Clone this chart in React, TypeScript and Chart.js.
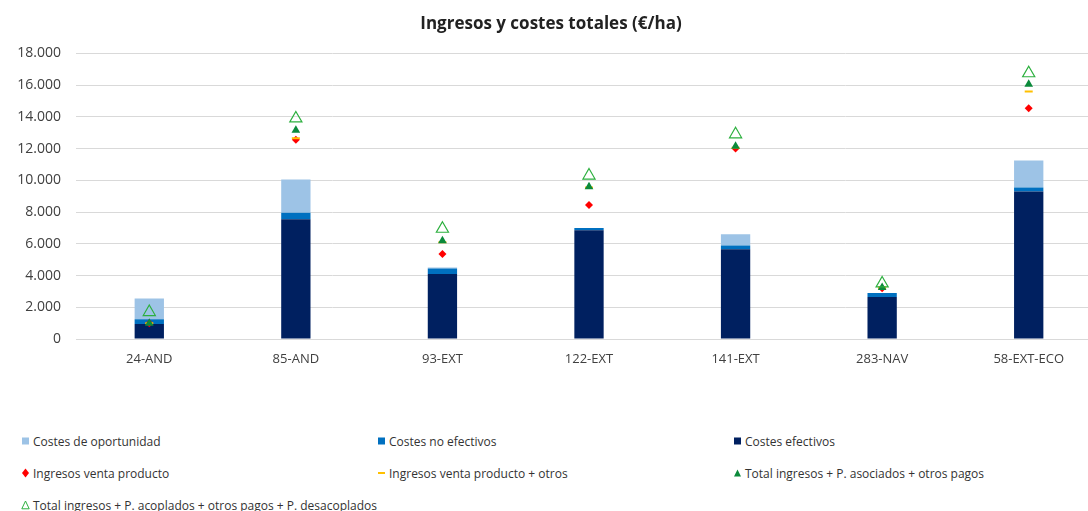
import React, { useEffect, useRef } from "react";
import { Chart, registerables } from "chart.js";

Chart.register(...registerables);

const categories = ["24-AND", "85-AND", "93-EXT", "122-EXT", "141-EXT", "283-NAV", "58-EXT-ECO"];

const costesEfectivos = [950, 7550, 4100, 6850, 5650, 2650, 9300];
const costesNoEfectivos = [300, 400, 350, 150, 250, 250, 250];
const costesOportunidad = [1300, 2100, 50, 0, 700, 0, 1700];

const ingresosVenta = [1000, 12550, 5350, 8450, 12000, 3200, 14550];
const ingresosVentaOtros = [1000, 12650, 6100, 9550, 12050, 3250, 15600];
const totalAsociados = [1000, 13150, 6200, 9600, 12150, 3250, 16050];
const totalAcoplados = [1700, 13900, 6950, 10300, 12900, 3500, 16750];

const yTicks = [0, 2000, 4000, 6000, 8000, 10000, 12000, 14000, 16000, 18000];

const COLORS = {
  oportunidad: "#9DC3E6",
  noEfectivos: "#0070C0",
  efectivos: "#002060",
  venta: "#FF0000",
  ventaOtros: "#FFC000",
  asociados: "#0B8A3B",
  acoplados: "#2DB03F",
};

const legendItems = [
  { label: "Costes de oportunidad", kind: "square", color: COLORS.oportunidad },
  { label: "Costes no efectivos", kind: "square", color: COLORS.noEfectivos },
  { label: "Costes efectivos", kind: "square", color: COLORS.efectivos },
  { label: "Ingresos venta producto", kind: "diamond", color: COLORS.venta },
  { label: "Ingresos venta producto + otros", kind: "dash", color: COLORS.ventaOtros },
  { label: "Total ingresos + P. asociados + otros pagos", kind: "triangle", color: COLORS.asociados },
  { label: "Total ingresos + P. acoplados + otros pagos + P. desacoplados", kind: "openTriangle", color: COLORS.acoplados },
];

function fmt(v: number): string {
  const s = Math.round(v).toString();
  return s.replace(/\B(?=(\d{3})+(?!\d))/g, ".");
}

function Marker({ kind, color }: { kind: string; color: string }) {
  let shape: React.ReactNode = null;
  if (kind === "square") shape = <rect x="1" y="1.5" width="7" height="7" fill={color} />;
  if (kind === "diamond") shape = <polygon points="4.5,0.5 8,5 4.5,9.5 1,5" fill={color} />;
  if (kind === "dash") shape = <rect x="1" y="4" width="7" height="2" fill={color} />;
  if (kind === "triangle") shape = <polygon points="4.5,1.5 8,8.5 1,8.5" fill={color} />;
  if (kind === "openTriangle")
    shape = <polygon points="4.5,1 8.2,8.8 0.8,8.8" fill="none" stroke={color} strokeWidth="1" />;
  return (
    <svg width="9" height="10" style={{ display: "block", marginRight: 3 }}>
      {shape}
    </svg>
  );
}

export default function App() {
  const ref = useRef<HTMLCanvasElement | null>(null);

  useEffect(() => {
    if (!ref.current) return;
    const chart = new Chart(ref.current, {
      type: "bar",
      data: {
        labels: categories,
        datasets: [
          {
            type: "bar",
            label: "Costes efectivos",
            data: costesEfectivos,
            backgroundColor: COLORS.efectivos,
            stack: "s",
            order: 10,
          },
          {
            type: "bar",
            label: "Costes no efectivos",
            data: costesNoEfectivos,
            backgroundColor: COLORS.noEfectivos,
            stack: "s",
            order: 10,
          },
          {
            type: "bar",
            label: "Costes de oportunidad",
            data: costesOportunidad,
            backgroundColor: COLORS.oportunidad,
            stack: "s",
            order: 10,
          },
          {
            type: "line",
            label: "Ingresos venta producto",
            data: ingresosVenta,
            stack: "m1",
            showLine: false,
            pointStyle: "rectRot",
            pointRadius: 4,
            pointBackgroundColor: COLORS.venta,
            pointBorderColor: COLORS.venta,
            pointBorderWidth: 0,
            order: 4,
          },
          {
            type: "line",
            label: "Ingresos venta producto + otros",
            data: ingresosVentaOtros,
            stack: "m2",
            showLine: false,
            pointStyle: "line",
            pointRadius: 4,
            pointBorderColor: COLORS.ventaOtros,
            pointBorderWidth: 2,
            order: 3,
          },
          {
            type: "line",
            label: "Total ingresos + P. asociados + otros pagos",
            data: totalAsociados,
            stack: "m3",
            showLine: false,
            pointStyle: "triangle",
            pointRadius: 5,
            pointBackgroundColor: COLORS.asociados,
            pointBorderColor: COLORS.asociados,
            pointBorderWidth: 0,
            order: 2,
          },
          {
            type: "line",
            label: "Total ingresos + P. acoplados + otros pagos + P. desacoplados",
            data: totalAcoplados,
            stack: "m4",
            showLine: false,
            pointStyle: "triangle",
            pointRadius: 7,
            pointBackgroundColor: "rgba(0,0,0,0)",
            pointBorderColor: COLORS.acoplados,
            pointBorderWidth: 1.2,
            order: 1,
          },
        ] as any,
      },
      options: {
        responsive: false,
        animation: false,
        devicePixelRatio: 1,
        layout: { padding: { left: 0, right: 16, top: 0, bottom: 1 } },
        datasets: {
          bar: { barPercentage: 0.2, categoryPercentage: 1 },
        } as any,
        plugins: {
          legend: { display: false },
          tooltip: { enabled: false },
          title: {
            display: true,
            text: "Ingresos y costes totales (€/ha)",
            color: "#222",
            font: { family: "'Open Sans'", size: 17, weight: "bold" },
            padding: { top: 14, bottom: 19 },
          },
        },
        scales: {
          x: {
            stacked: true,
            grid: { display: false, drawTicks: false },
            border: { display: true, color: "#D9D9D9" },
            ticks: {
              color: "#404040",
              font: { family: "'Open Sans'", size: 13 },
              padding: 12,
            },
            afterFit: (scale: any) => {
              scale.height = 33;
            },
          },
          y: {
            stacked: true,
            min: 0,
            max: yTicks[yTicks.length - 1],
            afterBuildTicks: (scale: any) => {
              scale.ticks = yTicks.map((v) => ({ value: v }));
            },
            grid: { color: "#D9D9D9", drawTicks: false },
            border: { display: false },
            ticks: {
              color: "#404040",
              font: { family: "'Open Sans'", size: 14 },
              padding: 15,
              callback: (v: any) => fmt(Number(v)),
            },
            afterFit: (scale: any) => {
              scale.width = 76;
            },
          },
        },
      } as any,
    });
    return () => chart.destroy();
  }, []);

  const colX = [21, 377, 733];
  const rowY = [433, 465, 497];

  return (
    <div
      style={{
        position: "fixed",
        left: 0,
        top: 0,
        width: 1088,
        height: 511,
        overflow: "hidden",
        background: "#fff",
        fontFamily: "'Open Sans', sans-serif",
      }}
    >
      <canvas ref={ref} width={1118} height={373} style={{ position: "absolute", left: 0, top: 0 }} />
      {legendItems.map((it, i) => (
        <div
          key={it.label}
          style={{
            position: "absolute",
            left: colX[i % 3],
            top: rowY[Math.floor(i / 3)],
            height: 16,
            display: "flex",
            alignItems: "center",
            fontSize: 12,
            color: "#333",
            whiteSpace: "nowrap",
          }}
        >
          <Marker kind={it.kind} color={it.color} />
          <span>{it.label}</span>
        </div>
      ))}
    </div>
  );
}
